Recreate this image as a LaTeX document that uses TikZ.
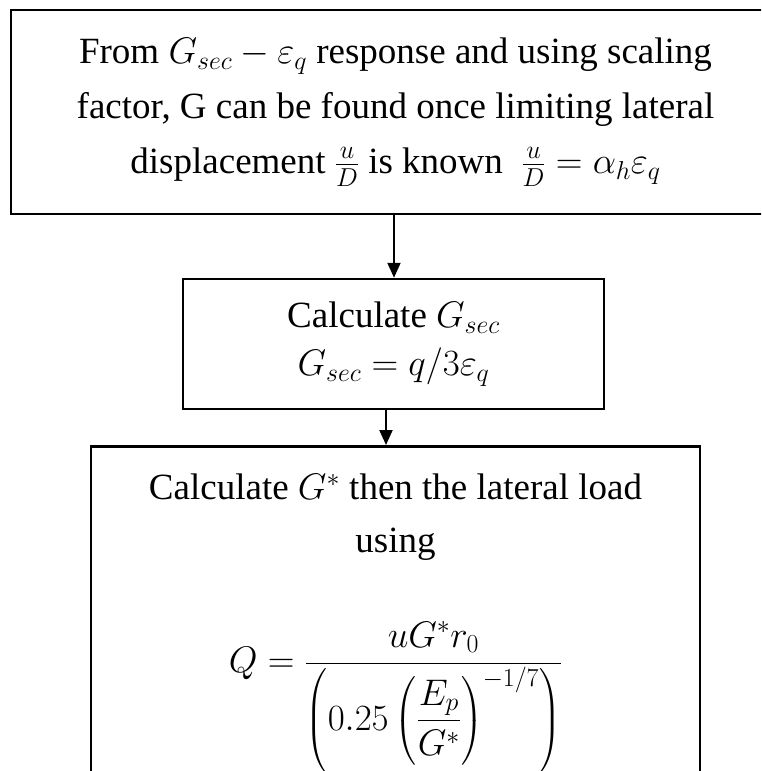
\RequirePackage{fix-cm}
\documentclass[tikz,border=0pt]{standalone}
\usepackage{amsmath}
\usepackage{fontspec}
\setmainfont{Liberation Serif}
\usetikzlibrary{arrows.meta}
\tikzset{
  box/.style={draw, line width=2.5pt, inner sep=0pt, align=center,
    font=\fontsize{37}{55}\selectfont},
  arr/.style={line width=2pt, -{Triangle[length=15pt,width=13pt]}}
}
\begin{document}
\begin{tikzpicture}[x=1pt,y=1pt]
\useasboundingbox (0,0) rectangle (761,-771);
\clip (0,0) rectangle (761,-771);
\node[box, minimum width=769pt, minimum height=204pt] (box1) at (395.5,-112)
  {From $G_{sec}-\varepsilon_q$ response and using scaling\\
   factor, G can be found once limiting lateral\\
   displacement $\frac{u}{D}$ is known\ \ $\frac{u}{D}=\alpha_h\varepsilon_q$};
\node[box, minimum width=421pt, minimum height=130pt,
  font=\fontsize{37}{48}\selectfont] (box2) at (393.5,-344)
  {Calculate $G_{sec}$\\ $G_{sec}=q/3\varepsilon_q$};
\node[box, minimum width=609pt, anchor=north] (box3) at (395.5,-445)
  {\parbox[t][345pt][t]{600pt}{\centering\vspace*{28pt}%
   Calculate $G^*$ then the lateral load\\[-2pt]
   using\\[60pt]
   $\displaystyle Q=\frac{uG^*r_0}{\left(0.25\left(\dfrac{E_p}{G^*}\right)^{-1/7}\right)}$}};
\coordinate (a1) at (394,0);
\coordinate (a2) at (386,0);
\draw[arr] (a1 |- box1.south) -- (a1 |- box2.north);
\draw[arr] (a2 |- box2.south) -- (a2 |- box3.north);
\end{tikzpicture}
\end{document}
